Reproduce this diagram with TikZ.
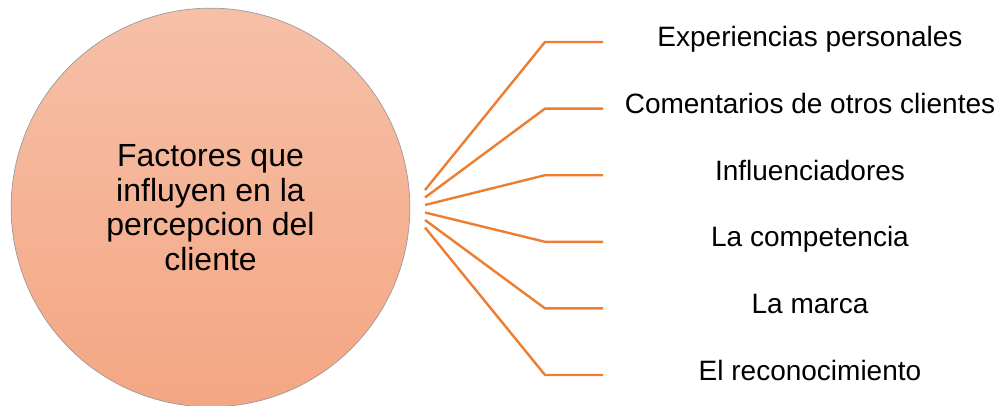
\documentclass[tikz,border=0pt]{standalone}
\usepackage{fontspec}
\setmainfont{Liberation Sans}
\usepackage{tikz}
\usetikzlibrary{
  calc,%
  positioning,%
  shapes.geometric%
}
\definecolor{factortop}{RGB}{246,192,167}
\definecolor{factorbot}{RGB}{244,166,131}
\definecolor{branchorange}{RGB}{237,125,49}
\tikzset{>=latex}
\tikzset{factor/.style={circle, draw=gray!80, line width=0.5pt,
    top color=factortop, bottom color=factorbot, align=center,
    font=\fontsize{24}{26}\selectfont, inner sep=0pt}}
\tikzset{factor label/.style={anchor=base, inner sep=0pt,
    font=\fontsize{21}{24}\selectfont}}
\tikzset{branch/.style={draw=branchorange, line width=1.8pt, line join=miter}}

\begin{document}
\begin{tikzpicture}[x=0.75pt, y=-0.75pt]
  \useasboundingbox (0, 0) rectangle (998, 406); %
  % central circle
  \node[factor, minimum size=299pt] (fact) at (210.5, 207.5)
    {Factores que\\influyen en la\\percepcion del\\cliente}; %
  % fan of branches to the labels
  \foreach \lbl [count=\i] in {Experiencias personales,
      Comentarios de otros clientes, Influenciadores,
      La competencia, La marca, El reconocimiento} {
    \pgfmathsetmacro{\ya}{182.5+7.5*\i}
    \pgfmathsetmacro{\yb}{-24.6+66.6*\i}
    \coordinate (s\i) at (425, \ya); %
    \coordinate (k\i) at (545, \yb); %
    \coordinate (t\i) at (603, \yb); %
    \node[factor label] (f\i) at (810, \yb+5) {\lbl}; %
    \draw[branch] (s\i) -- (k\i) -- (t\i); %
  }
\end{tikzpicture}
\end{document}
